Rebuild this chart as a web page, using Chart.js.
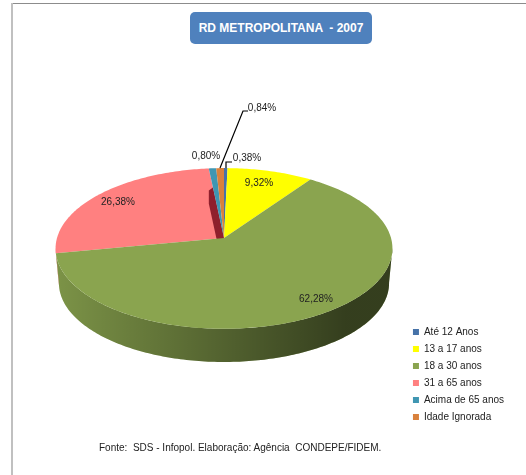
<!DOCTYPE html>
<html>
<head>
<meta charset="utf-8">
<script src="https://cdn.jsdelivr.net/npm/chart.js@4"></script>
<style>
    html, body { margin: 0; padding: 0; background: #fff; }
    body { width: 526px; height: 475px; position: relative; overflow: hidden; font-family: "Liberation Sans", Arial, sans-serif; }
    #wrap { position: absolute; left: 0; top: 0; width: 526px; height: 475px; }
    .frameTop { position: absolute; left: 11px; top: 3px; width: 515px; height: 1px; background: #8c8c8c; }
    .frameLeft { position: absolute; left: 11px; top: 3px; width: 2px; height: 472px; background: #c0c0c0; }
    #titleBox { position: absolute; left: 190px; top: 12px; width: 182px; height: 32px; line-height: 32px; text-align: center;
        background: #4f81bd; border-radius: 5px; color: #fff; font-weight: bold; font-size: 12px; white-space: pre; }
    #fonte { position: absolute; left: 99px; top: 442px; font-size: 10px; color: #222; white-space: pre; }
</style>
</head>
<body>
<div id="wrap"><canvas id="pieChart" width="526" height="475"></canvas></div>
<div class="frameTop"></div>
<div class="frameLeft"></div>
<div id="titleBox">RD METROPOLITANA  - 2007</div>
<div id="fonte">Fonte:  SDS - Infopol. Elaboração: Agência  CONDEPE/FIDEM.</div>
<script>
// dados do grafico
const categories = ['Até 12 Anos', '13 a 17 anos', '18 a 30 anos', '31 a 65 anos', 'Acima de 65 anos', 'Idade Ignorada'];
const values = [0.38, 9.32, 62.28, 26.38, 0.80, 0.84];
const sliceColors = ['#4672a8', '#ffff00', '#8aa44f', '#ff8080', '#3f96b2', '#d9813c'];

// geometria da pizza em perspectiva
const cx = 224, apexY = 238, bx = 167, by = 79, persp = 0.13;
const depth = 35, bottomScale = 0.98;
const pinkIndex = 3;

// onde cada rotulo fica (texto centrado)
const labelSpots = [[247, 158], [259, 183], [316, 299], [118, 202], [206, 156], [262, 108]];
const leaders = [
    [[226, 168], [226, 162], [232, 162]],
    null, null, null, null,
    [[220, 168], [243, 111], [248, 111]]
];

function project(theta, r) {
    const u = Math.sin(theta) * r, v = -Math.cos(theta) * r;
    const w = 1 - persp * v;
    return [cx + bx * u / w, apexY + by * v / w];
}

function lower(p) {
    return [cx + (p[0] - cx) * bottomScale, apexY + (p[1] - apexY) * bottomScale + depth];
}

function tracePoints(ctx, pts) {
    ctx.beginPath();
    pts.forEach((p, i) => i ? ctx.lineTo(p[0], p[1]) : ctx.moveTo(p[0], p[1]));
    ctx.closePath();
}

function rimPoints(a, b) {
    const pts = [];
    const n = Math.max(2, Math.ceil((b - a) * 60));
    for (let i = 0; i <= n; i++) pts.push(project(a + (b - a) * i / n, 1));
    return pts;
}

// desenha a pizza 3D a partir dos arcos calculados pelo Chart.js
const pie3d = {
    id: 'pie3d',
    beforeDatasetDraw(chart) {
        const ctx = chart.ctx;
        const arcs = chart.getDatasetMeta(0).data;
        const thetas = arcs.map(el => [el.startAngle + Math.PI / 2, el.endAngle + Math.PI / 2]);

        ctx.save();

        // parede lateral (so a parte da frente aparece)
        const shade = ctx.createLinearGradient(55, 0, 345, 0);
        shade.addColorStop(0, 'rgba(0,0,0,0.1)');
        shade.addColorStop(1, 'rgba(0,0,0,0.62)');
        const frontStart = Math.PI * 0.54, frontEnd = Math.PI * 1.46;
        thetas.forEach((t, i) => {
            const a = Math.max(t[0], frontStart), b = Math.min(t[1], frontEnd);
            if (b <= a) return;
            const top = rimPoints(a, b);
            const pts = top.concat(top.map(lower).reverse());
            tracePoints(ctx, pts);
            ctx.fillStyle = sliceColors[i];
            ctx.fill();
            ctx.fillStyle = shade;
            ctx.fill();
        });

        const face = i => {
            const t = thetas[i];
            tracePoints(ctx, [[cx, apexY]].concat(rimPoints(t[0], t[1])));
            ctx.fillStyle = sliceColors[i];
            ctx.fill();
        };

        // fatia rosa, depois o corte dela, depois o resto por cima
        face(pinkIndex);
        const rimEnd = project(thetas[pinkIndex][1], 1);
        const cutTip = project(thetas[pinkIndex][1], 0.7);
        tracePoints(ctx, [[cx, apexY], cutTip, [rimEnd[0], rimEnd[1] + 22], [rimEnd[0], rimEnd[1] + depth], [cx, apexY + depth]]);
        ctx.fillStyle = '#8f1f2c';
        ctx.fill();
        thetas.forEach((t, i) => { if (i !== pinkIndex) face(i); });

        ctx.restore();
        return false;
    },
    afterDatasetsDraw(chart) {
        const ctx = chart.ctx;
        ctx.save();
        ctx.strokeStyle = '#000';
        ctx.lineWidth = 1.2;
        leaders.forEach(line => {
            if (!line) return;
            ctx.beginPath();
            line.forEach((p, i) => i ? ctx.lineTo(p[0], p[1]) : ctx.moveTo(p[0], p[1]));
            ctx.stroke();
        });
        ctx.fillStyle = '#222';
        ctx.font = '10px "Liberation Sans", Arial, sans-serif';
        ctx.textAlign = 'center';
        ctx.textBaseline = 'middle';
        values.forEach((v, i) => {
            ctx.fillText(v.toFixed(2).replace('.', ',') + '%', labelSpots[i][0], labelSpots[i][1]);
        });
        ctx.restore();
    }
};

new Chart(document.getElementById('pieChart').getContext('2d'), {
    type: 'pie',
    data: {
        labels: categories,
        datasets: [{ data: values, backgroundColor: sliceColors, borderWidth: 0 }]
    },
    options: {
        responsive: false,
        animation: false,
        layout: { padding: { top: 0, right: 12, bottom: 46, left: 0 } },
        plugins: {
            tooltip: { enabled: false },
            legend: {
                position: 'right',
                align: 'end',
                labels: {
                    boxWidth: 6,
                    boxHeight: 6,
                    padding: 7,
                    color: '#222',
                    font: { family: '"Liberation Sans", Arial, sans-serif', size: 10 }
                }
            }
        }
    },
    plugins: [pie3d]
});
</script>
</body>
</html>
